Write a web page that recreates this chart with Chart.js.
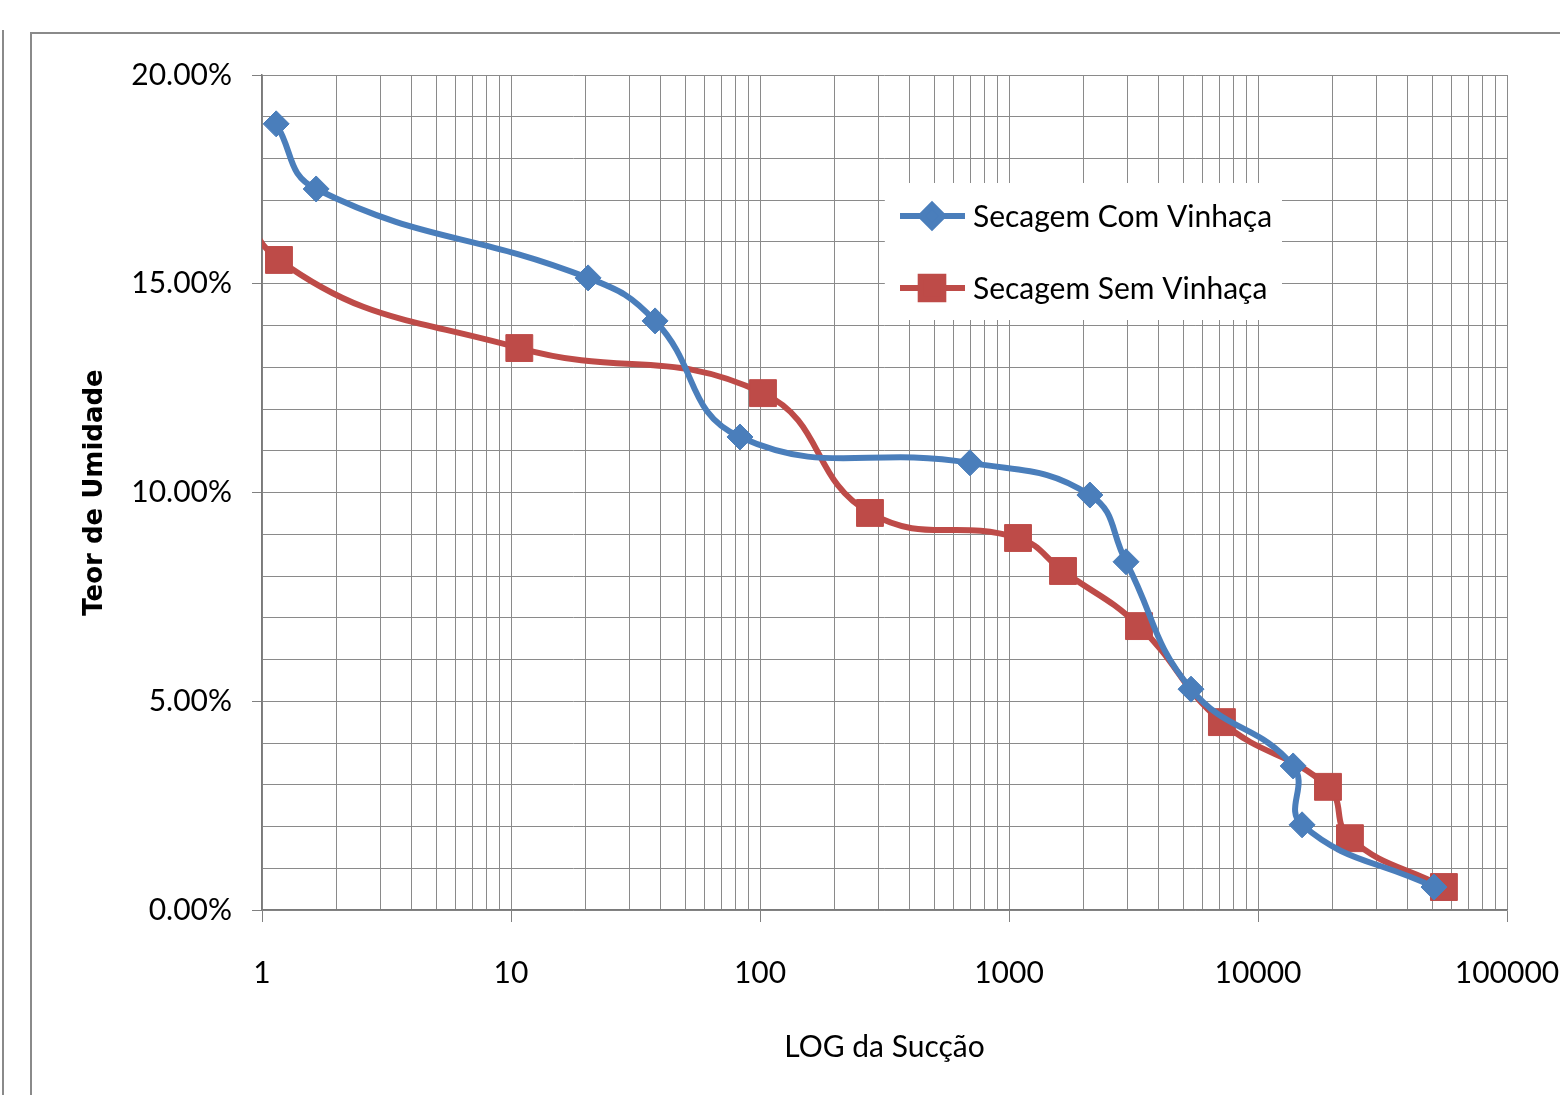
<!DOCTYPE html>
<html>
<head>
<meta charset="utf-8">
<title>Teor de Umidade x LOG da Sucção</title>
<script src="https://cdn.jsdelivr.net/npm/chart.js@4.4.1/dist/chart.umd.min.js"></script>
<style>
    html, body { margin: 0; padding: 0; background: #ffffff; }
    #wrap { position: relative; width: 1560px; height: 1095px; }
</style>
</head>
<body>
<div id="wrap"><canvas id="chart"></canvas></div>
<script>
// ========================================
// Data
// ========================================

// Secagem Com Vinhaça
const suctionCom = [1.14, 1.65, 20.4, 37.9, 83.1, 697, 2113, 2951, 5383, 13840, 15030, 50900];
const umidadeCom = [18.83, 17.27, 15.14, 14.11, 11.33, 10.71, 9.94, 8.34, 5.29, 3.45, 2.04, 0.55];

// Secagem Sem Vinhaça (first point sits left of the axis and is clipped)
const suctionSem = [0.8, 1.17, 10.8, 102.8, 276.5, 1087, 1648, 3327, 7163, 19100, 23400, 55800];
const umidadeSem = [18.3, 15.57, 13.46, 12.38, 9.51, 8.91, 8.12, 6.80, 4.50, 2.95, 1.72, 0.55];

const seriesNames = ['Secagem Com Vinhaça', 'Secagem Sem Vinhaça'];

// Axis ticks
const xDecades = [1, 10, 100, 1000, 10000, 100000];
const xTickLabels = ['1', '10', '100', '1000', '10000', '100000'];
const xMinorSteps = [2, 3, 4, 5, 6, 7, 8, 9];
const yTickValues = [0, 1, 2, 3, 4, 5, 6, 7, 8, 9, 10, 11, 12, 13, 14, 15, 16, 17, 18, 19, 20];
const yLabelEvery = 5;

// ========================================
// Styles
// ========================================
const BLUE = '#4A7EBB';
const RED = '#BE4B48';
const GRID = '#8a8a8a';
const TEXT_FONT = 'Lato, "Open Sans", "DejaVu Sans Condensed", sans-serif';

function toPoints(xs, ys) {
    return xs.map((x, i) => ({ x: x, y: ys[i] }));
}

function buildXTicks() {
    const ticks = [];
    xDecades.forEach((d, i) => {
        ticks.push({ value: d, major: true });
        if (i < xDecades.length - 1) {
            xMinorSteps.forEach(m => ticks.push({ value: d * m, major: false }));
        }
    });
    return ticks;
}

// Outer frame of the chart object
const framePlugin = {
    id: 'frame',
    beforeDraw(chart) {
        const ctx = chart.ctx;
        ctx.save();
        ctx.fillStyle = '#ffffff';
        ctx.fillRect(0, 0, chart.width, chart.height);
        ctx.strokeStyle = '#8a8a8a';
        ctx.lineWidth = 2;
        ctx.beginPath();
        ctx.moveTo(31, chart.height);
        ctx.lineTo(31, 33);
        ctx.lineTo(chart.width, 33);
        ctx.moveTo(3, 30);
        ctx.lineTo(3, chart.height);
        ctx.stroke();
        ctx.restore();
    }
};

// Legend box drawn inside the plot area
const insideLegend = {
    id: 'insideLegend',
    afterDraw(chart) {
        const ctx = chart.ctx;
        const box = { x: 885, y: 183, w: 397, h: 137 };
        const rows = [216, 288];
        ctx.save();
        ctx.fillStyle = '#ffffff';
        ctx.fillRect(box.x, box.y, box.w, box.h);
        chart.data.datasets.forEach((ds, i) => {
            const y = rows[i];
            ctx.strokeStyle = ds.borderColor;
            ctx.lineWidth = 6;
            ctx.beginPath();
            ctx.moveTo(900, y);
            ctx.lineTo(965, y);
            ctx.stroke();
            ctx.fillStyle = ds.pointBackgroundColor;
            ctx.strokeStyle = ds.pointBorderColor;
            Chart.helpers.drawPoint(ctx, {
                pointStyle: ds.pointStyle,
                radius: ds.legendRadius,
                rotation: 0,
                borderWidth: 1
            }, 932, y);
            ctx.fillStyle = '#000000';
            ctx.font = '30px ' + TEXT_FONT;
            ctx.textBaseline = 'middle';
            ctx.textAlign = 'left';
            ctx.fillText(ds.label, 973, y + 1);
        });
        ctx.restore();
    }
};

// ========================================
// Chart
// ========================================
document.addEventListener('DOMContentLoaded', function () {
    const ctx = document.getElementById('chart');

    new Chart(ctx, {
        type: 'line',
        data: {
            datasets: [
                {
                    label: seriesNames[0],
                    data: toPoints(suctionCom, umidadeCom),
                    borderColor: BLUE,
                    borderWidth: 6,
                    pointStyle: 'rectRot',
                    pointRadius: 13,
                    legendRadius: 11,
                    pointBackgroundColor: BLUE,
                    pointBorderColor: BLUE,
                    pointBorderWidth: 1,
                    tension: 0.45,
                    fill: false,
                    clip: 0
                },
                {
                    label: seriesNames[1],
                    data: toPoints(suctionSem, umidadeSem),
                    borderColor: RED,
                    borderWidth: 6,
                    pointStyle: 'rect',
                    pointRadius: 19,
                    legendRadius: 16,
                    pointBackgroundColor: RED,
                    pointBorderColor: RED,
                    pointBorderWidth: 1,
                    tension: 0.45,
                    fill: false,
                    clip: 0
                }
            ]
        },
        options: {
            responsive: true,
            maintainAspectRatio: false,
            devicePixelRatio: 1,
            animation: false,
            layout: {
                padding: { top: 75, right: 53, left: 0, bottom: 0 }
            },
            plugins: {
                legend: { display: false },
                tooltip: { enabled: false }
            },
            scales: {
                x: {
                    type: 'logarithmic',
                    min: 1,
                    max: 100000,
                    afterBuildTicks: scale => { scale.ticks = buildXTicks(); },
                    afterFit: scale => {
                        scale.height = 185;
                        scale.paddingLeft = 0;
                        scale.paddingRight = 0;
                    },
                    ticks: {
                        autoSkip: false,
                        maxRotation: 0,
                        padding: 33,
                        color: '#000000',
                        font: { family: TEXT_FONT, size: 30 },
                        callback: function (value) {
                            const idx = xDecades.indexOf(value);
                            return idx >= 0 ? xTickLabels[idx] : '';
                        }
                    },
                    grid: {
                        color: GRID,
                        lineWidth: 1,
                        tickLength: 12,
                        tickColor: c => (c.tick && xDecades.indexOf(c.tick.value) >= 0) ? '#808080' : 'rgba(0,0,0,0)'
                    },
                    border: { color: '#7a7a7a', width: 1.5 },
                    title: {
                        display: true,
                        text: 'LOG da Sucção',
                        color: '#000000',
                        font: { family: TEXT_FONT, size: 30 },
                        padding: { top: 0, bottom: 30 }
                    }
                },
                y: {
                    type: 'linear',
                    min: 0,
                    max: 20,
                    afterBuildTicks: scale => { scale.ticks = yTickValues.map(v => ({ value: v })); },
                    afterFit: scale => { scale.width = 262; },
                    ticks: {
                        autoSkip: false,
                        padding: 20,
                        color: '#000000',
                        font: { family: TEXT_FONT, size: 30 },
                        callback: value => (value % yLabelEvery === 0 ? value.toFixed(2) + '%' : '')
                    },
                    grid: {
                        color: GRID,
                        lineWidth: 1,
                        tickLength: 10,
                        tickColor: c => (c.tick && c.tick.value % yLabelEvery === 0) ? '#808080' : 'rgba(0,0,0,0)'
                    },
                    border: { color: '#7a7a7a', width: 1.5 },
                    title: {
                        display: true,
                        text: 'Teor de Umidade',
                        color: '#000000',
                        font: { family: 'DejaVu Sans', size: 26, weight: 'bold' },
                        padding: { top: 80, bottom: 0 }
                    }
                }
            }
        },
        plugins: [framePlugin, insideLegend]
    });
});
</script>
</body>
</html>
